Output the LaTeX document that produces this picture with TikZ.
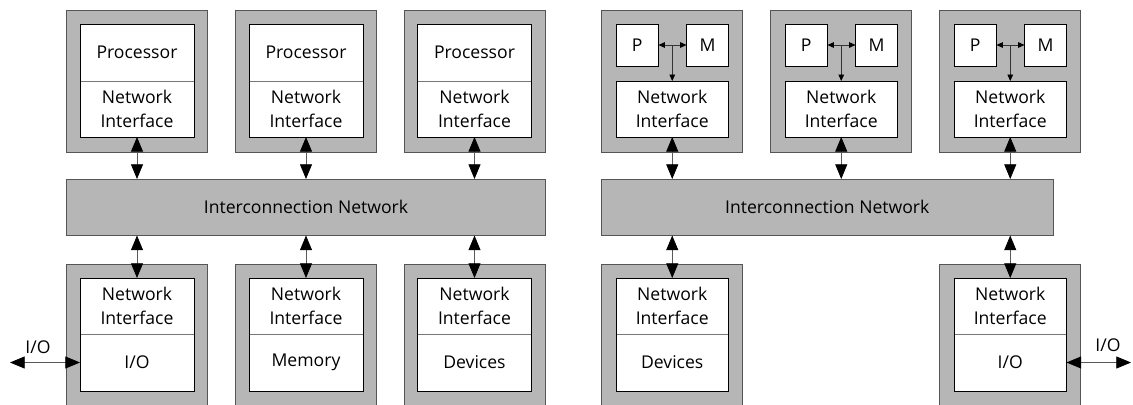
\documentclass[tikz,border=0pt]{standalone}
\usepackage{fontspec}
\setmainfont{Open Sans}
\usetikzlibrary{arrows.meta}
\definecolor{shade}{RGB}{182,182,182}
\definecolor{rim}{RGB}{85,85,85}
\definecolor{rule}{RGB}{120,120,120}

% block: name, style, left, top, right, bottom, text (coordinates in px, y downwards)
\newcommand\blk[7]{%
  \node[#2, anchor=north west, minimum width={(#5-(#3))*0.75pt},
        minimum height={(#6-(#4))*0.75pt}] (#1) at (#3,#4) {#7};}

\begin{document}
\begin{tikzpicture}[x=0.75pt, y=-0.75pt,
  every node/.style={inner sep=0pt, outer sep=0pt},
  shell/.style={draw=rim, line width=0.6pt, fill=shade},
  cell/.style={draw=rule, line width=0.5pt, fill=white, align=center,
               font=\fontsize{13.2}{17.5}\selectfont},
  frame/.style={draw=black, line width=0.6pt},
  lbl/.style={font=\fontsize{13.2}{17.5}\selectfont},
  bigtip/.tip={Triangle[length=11pt, width=9pt, color=black]},
  smalltip/.tip={Triangle[length=4.8pt, width=4.2pt, color=black]},
  link/.style={draw=black!65, line width=0.6pt, {bigtip}-{bigtip}},
  tiny/.style={draw=black!80, line width=0.5pt, {smalltip}-{smalltip}},
  down/.style={draw=black!80, line width=0.5pt, -{smalltip}}
]
\useasboundingbox (0,0) rectangle (1133,404);

% ---------- left system: shared interconnect ----------
\blk{netL}{shell, lbl}{66.5}{179}{545.5}{235.5}{Interconnection Network}

% processor nodes
\foreach \k/\L in {1/66.5, 2/235.5, 3/404} {
  \blk{t\k}{shell}{\L}{10}{\L+141}{152}{}
  \blk{tp\k}{cell}{\L+13.5}{24}{\L+127.5}{81}{Processor}
  \blk{tn\k}{cell}{\L+13.5}{81}{\L+127.5}{137}{Network\\Interface}
  \draw[frame] (tp\k.north west) rectangle (tn\k.south east);
  \draw[link] (tn\k.south) -- (tn\k.south |- netL.north);
}

% I/O, memory and device nodes
\foreach \k/\L/\what in {1/66.5/I\slash O, 2/235.5/Memory, 3/404/Devices} {
  \blk{b\k}{shell}{\L}{264}{\L+141}{406}{}
  \blk{bn\k}{cell}{\L+13.5}{278}{\L+127.5}{334}{Network\\Interface}
  \blk{bx\k}{cell}{\L+13.5}{334}{\L+127.5}{391}{\what}
  \draw[frame] (bn\k.north west) rectangle (bx\k.south east);
  \draw[link] (netL.south -| bn\k.north) -- (bn\k.north);
}

\coordinate (ioL) at (10,362.5);
\draw[link] (ioL) -- (bx1.west);
\node[lbl] (ioLtxt) at (38,347) {I/O};

% ---------- right system: shared interconnect ----------
\blk{netR}{shell, lbl}{601.5}{179}{1053}{235.5}{Interconnection Network}

% processor-memory nodes
\foreach \k/\L in {4/601.5, 5/770.5, 6/939.5} {
  \blk{t\k}{shell}{\L}{10}{\L+141}{152}{}
  \blk{P\k}{cell, draw=black}{\L+14.5}{24}{\L+57}{66}{P}
  \blk{M\k}{cell, draw=black}{\L+85}{24}{\L+127}{66}{M}
  \blk{tn\k}{cell, draw=black}{\L+14.5}{81}{\L+127}{137}{Network\\Interface}
  \draw[tiny] (P\k.east) -- (M\k.west);
  \draw[down] (tn\k.north |- P\k.east) -- (tn\k.north);
  \draw[link] (tn\k.south) -- (tn\k.south |- netR.north);
}

% device and I/O nodes
\foreach \k/\L/\what in {4/601.5/Devices, 6/939.5/I\slash O} {
  \blk{b\k}{shell}{\L}{264}{\L+141}{406}{}
  \blk{bn\k}{cell}{\L+14.5}{278}{\L+127}{334}{Network\\Interface}
  \blk{bx\k}{cell}{\L+14.5}{334}{\L+127}{391}{\what}
  \draw[frame] (bn\k.north west) rectangle (bx\k.south east);
  \draw[link] (netR.south -| bn\k.north) -- (bn\k.north);
}

\coordinate (ioR) at (1131,362.5);
\draw[link] (bx6.east) -- (ioR);
\node[lbl] (ioRtxt) at (1108,345) {I/O};
\end{tikzpicture}
\end{document}
